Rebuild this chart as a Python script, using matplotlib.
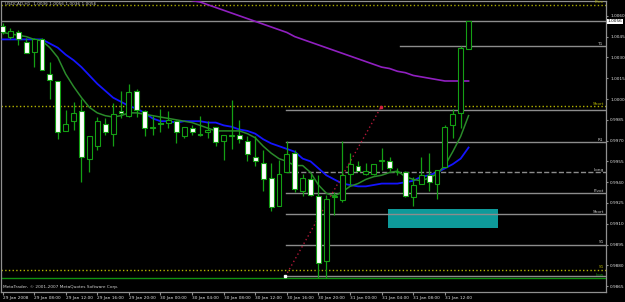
import numpy as np
import matplotlib.pyplot as plt
from matplotlib.patches import Rectangle
import matplotlib.transforms as mtransforms

# USDCAD H1, one bar per hour from 29 Jan 2008 04:00 to 31 Jan 2008 15:00
opens = [1.0053, 1.0045, 1.0048, 1.0041, 1.0034, 1.0043, 1.0018, 1.0013, 0.9977, 0.9984,
         0.9991, 0.9957, 0.9966, 0.9982, 0.9975, 0.9991, 0.9988, 1.0006, 0.9991, 0.9979,
         0.9983, 0.9983, 0.9984, 0.9973, 0.9979, 0.9975, 0.9976, 0.9980, 0.9970, 0.9973,
         0.9974, 0.9970, 0.9958, 0.9954, 0.9943, 0.9923, 0.9947, 0.9961, 0.9934, 0.9942,
         0.9930, 0.9883, 0.9929, 0.9927, 0.9946, 0.9952, 0.9946, 0.9946, 0.9955, 0.9955,
         0.9947, 0.9947, 0.9929, 0.9939, 0.9945, 0.9939, 0.9951, 0.9981, 0.9990, 1.0036]
highs = [1.0055, 1.0051, 1.0050, 1.0044, 1.0044, 1.0044, 1.0027, 1.0013, 0.9992, 0.9998,
         1.0000, 0.9973, 0.9987, 0.9986, 0.9997, 1.0006, 1.0011, 1.0007, 0.9992, 0.9988,
         0.9993, 0.9991, 0.9985, 0.9980, 0.9981, 0.9988, 0.9984, 0.9980, 0.9974, 0.9999,
         0.9985, 0.9973, 0.9973, 0.9963, 0.9954, 0.9956, 0.9970, 0.9963, 0.9946, 0.9946,
         0.9945, 0.9931, 0.9933, 0.9970, 0.9961, 0.9955, 0.9954, 0.9953, 0.9965, 0.9958,
         0.9950, 0.9948, 0.9944, 0.9958, 0.9961, 0.9949, 0.9981, 0.9993, 1.0038, 1.0056]
lows = [1.0047, 1.0043, 1.0039, 1.0033, 1.0023, 1.0021, 1.0000, 0.9971, 0.9977, 0.9978,
        0.9940, 0.9947, 0.9963, 0.9974, 0.9966, 0.9986, 0.9987, 0.9987, 0.9973, 0.9974,
        0.9976, 0.9979, 0.9968, 0.9972, 0.9974, 0.9973, 0.9972, 0.9966, 0.9956, 0.9964,
        0.9968, 0.9955, 0.9952, 0.9934, 0.9919, 0.9923, 0.9947, 0.9933, 0.9930, 0.9930,
        0.9871, 0.9871, 0.9916, 0.9926, 0.9938, 0.9948, 0.9945, 0.9945, 0.9949, 0.9948,
        0.9945, 0.9929, 0.9923, 0.9939, 0.9934, 0.9928, 0.9951, 0.9972, 0.9979, 1.0036]
closes = [1.0048, 1.0049, 1.0043, 1.0033, 1.0043, 1.0021, 1.0014, 0.9976, 0.9982, 0.9990,
          0.9958, 0.9973, 0.9984, 0.9976, 0.9989, 0.9990, 1.0005, 0.9992, 0.9979, 0.9980,
          0.9982, 0.9985, 0.9976, 0.9980, 0.9976, 0.9974, 0.9978, 0.9969, 0.9974, 0.9974,
          0.9971, 0.9960, 0.9955, 0.9942, 0.9922, 0.9946, 0.9960, 0.9935, 0.9943, 0.9931,
          0.9882, 0.9928, 0.9930, 0.9945, 0.9953, 0.9948, 0.9948, 0.9953, 0.9956, 0.9950,
          0.9947, 0.9930, 0.9938, 0.9945, 0.9940, 0.9949, 0.9980, 0.9989, 1.0037, 1.0056]

# moving averages, one value per bar
ma_slow = [1.0043, 1.0043, 1.0043, 1.0043, 1.0043, 1.0043, 1.0040, 1.0037, 1.0032, 1.0028,
           1.0023, 1.0017, 1.0011, 1.0006, 1.0001, 0.9998, 0.9995, 0.9993, 0.9990, 0.9986,
           0.9984, 0.9984, 0.9983, 0.9984, 0.9984, 0.9984, 0.9983, 0.9983, 0.9981, 0.9980,
           0.9978, 0.9977, 0.9975, 0.9971, 0.9968, 0.9966, 0.9964, 0.9962, 0.9957, 0.9955,
           0.9950, 0.9945, 0.9942, 0.9939, 0.9938, 0.9937, 0.9937, 0.9938, 0.9939, 0.9939,
           0.9939, 0.9940, 0.9941, 0.9944, 0.9945, 0.9947, 0.9950, 0.9953, 0.9957, 0.9965]
ma_fast = [1.0048, 1.0047, 1.0046, 1.0045, 1.0043, 1.0042, 1.0037, 1.0030, 1.0018, 1.0009,
           1.0001, 0.9994, 0.9990, 0.9988, 0.9987, 0.9988, 0.9990, 0.9990, 0.9989, 0.9988,
           0.9987, 0.9986, 0.9985, 0.9984, 0.9983, 0.9981, 0.9979, 0.9977, 0.9977, 0.9977,
           0.9977, 0.9975, 0.9972, 0.9966, 0.9961, 0.9957, 0.9955, 0.9952, 0.9952, 0.9947,
           0.9938, 0.9932, 0.9930, 0.9933, 0.9937, 0.9939, 0.9942, 0.9944, 0.9945, 0.9947,
           0.9948, 0.9944, 0.9942, 0.9941, 0.9943, 0.9946, 0.9952, 0.9962, 0.9973, 0.9988]
ma_long_start = 24
ma_long = [1.0071, 1.0070, 1.0068, 1.0066, 1.0064, 1.0062, 1.0060, 1.0058, 1.0056, 1.0054,
           1.0052, 1.0050, 1.0048, 1.0045, 1.0043, 1.0041, 1.0039, 1.0037, 1.0035, 1.0033,
           1.0031, 1.0029, 1.0027, 1.0025, 1.0023, 1.0022, 1.0020, 1.0019, 1.0017, 1.0016,
           1.0015, 1.0014, 1.0013, 1.0013, 1.0013, 1.0013]

# horizontal levels: name, price, colour, style, first bar (None = whole chart)
level_names = ["Prev", "T1", "Short", "", "R1", "Long", "Pivot", "Short", "S1", "S1", "", "Low"]
level_prices = [1.0068, 1.0038, 0.9995, 0.9992, 0.9969, 0.9947, 0.9932, 0.9917, 0.9895, 0.9877, 0.9872, 0.9871]
level_colors = ["#a8a800", "#8c8c8c", "#b4b400", "#8c8c8c", "#8c8c8c", "#8c8c8c", "#8c8c8c",
                "#8c8c8c", "#8c8c8c", "#b4b400", "#8c8c8c", "#109010"]
level_styles = [":", "-", ":", "-", "-", "--", "-", "-", "-", ":", "-", "-"]
level_start = [None, 50.3, None, 35.9, 35.9, 35.9, 35.9, 35.9, 35.9, None, 35.9, None]

# trend line and zone
trend_bars = [35.8, 47.9]
trend_prices = [0.9872, 0.9994]
zone_bars = [48.8, 62.7]
zone_prices = [0.9907, 0.9921]

bid = 1.0056
tick_bars = list(range(0, 57, 4))
tick_texts = ["29 Jan 2008", "29 Jan 08:00", "29 Jan 12:00", "29 Jan 16:00", "29 Jan 20:00",
              "30 Jan 00:00", "30 Jan 04:00", "30 Jan 08:00", "30 Jan 12:00", "30 Jan 16:00",
              "30 Jan 20:00", "31 Jan 00:00", "31 Jan 04:00", "31 Jan 08:00", "31 Jan 12:00"]
price_ticks = [0.9865, 0.9880, 0.9895, 0.9910, 0.9925, 0.9940, 0.9955, 0.9970, 0.9985,
               1.0000, 1.0015, 1.0030, 1.0045, 1.0060]

fs = 3.1
fig = plt.figure(figsize=(6.25, 3.02), dpi=100, facecolor="black")
ax = fig.add_axes([1 / 625, 10 / 302, 605 / 625, 291 / 302], facecolor="black")
ax.set_xlim(-0.19, 76.4)
ax.set_ylim(0.98608, 1.00707)
xr = ax.get_xlim()[1]

# zone first, levels drawn over it
ax.add_patch(Rectangle((zone_bars[0], zone_prices[0]), zone_bars[1] - zone_bars[0],
                       zone_prices[1] - zone_prices[0], facecolor="#0e9a9a", edgecolor="none", zorder=1))

for name, p, c, ls, st in zip(level_names, level_prices, level_colors, level_styles, level_start):
    x0 = ax.get_xlim()[0] if st is None else st
    ax.plot([x0, xr], [p, p], color=c, lw=1.0, ls=ls, zorder=2)
    if name:
        ax.text(xr - 0.3, p + 0.00003, name, color=c if c != "#8c8c8c" else "#c8c8c8",
                fontsize=fs, ha="right", va="bottom", zorder=6)

# bid line
ax.axhline(bid, color="#8c8c8c", lw=1.0, zorder=2)

x = np.arange(len(opens))
ax.plot(x, ma_slow, color="#1414ff", lw=1.3, zorder=3)
ax.plot(x, ma_fast, color="#2a8a2a", lw=1.1, zorder=3)
ax.plot(np.arange(ma_long_start, ma_long_start + len(ma_long)), ma_long, color="#9020c0", lw=1.2, zorder=3)

ax.plot(trend_bars, trend_prices, color="#b01838", lw=1.0, ls=(0, (1, 2)), zorder=3)
ax.plot(trend_bars[0], trend_prices[0], marker="s", ms=2, color="white", zorder=6)
ax.plot(trend_bars[1], trend_prices[1], marker="s", ms=1.5, color="#d02040", zorder=6)

# candles
cc = "#14a014"
ax.vlines(x, lows, highs, color=cc, lw=0.9, zorder=4)
o = np.array(opens)
c = np.array(closes)
body_col = np.where(c < o, "white", "black")
ax.bar(x, c - o, bottom=o, width=0.62, color=body_col, edgecolor=cc, linewidth=0.8, zorder=5)

# axes styling
for s in ax.spines.values():
    s.set_color("#909090")
    s.set_linewidth(0.9)
ax.yaxis.tick_right()
ax.set_yticks(price_ticks)
ax.set_yticklabels(["%.4f" % v for v in price_ticks])
ax.set_xticks(tick_bars)
ax.set_xticklabels(tick_texts, ha="left")
ax.tick_params(axis="y", colors="#909090", labelcolor="#e0e0e0", labelsize=fs, length=1.5, pad=1.5)
ax.tick_params(axis="x", colors="#909090", labelcolor="#e0e0e0", labelsize=fs, length=2.5, pad=0.5)

trans = mtransforms.blended_transform_factory(ax.transAxes, ax.transData)
ax.text(1.003, bid, "1.0056", transform=trans, fontsize=fs, color="black", ha="left", va="center",
        bbox=dict(boxstyle="square,pad=0.15", facecolor="white", edgecolor="none"), zorder=7)

ax.text(0.007, 0.995, "USDCAD,H1  1.0036 1.0056 1.0036 1.0056", transform=ax.transAxes,
        fontsize=fs, color="#c0c0c0", ha="left", va="top", zorder=7)
ax.text(0.004, 0.012, "MetaTrader, \u00a9 2001-2007 MetaQuotes Software Corp.", transform=ax.transAxes,
        fontsize=fs, color="#d0d0d0", ha="left", va="bottom", zorder=7)

fig.savefig("out.png", dpi=100, facecolor="black")
